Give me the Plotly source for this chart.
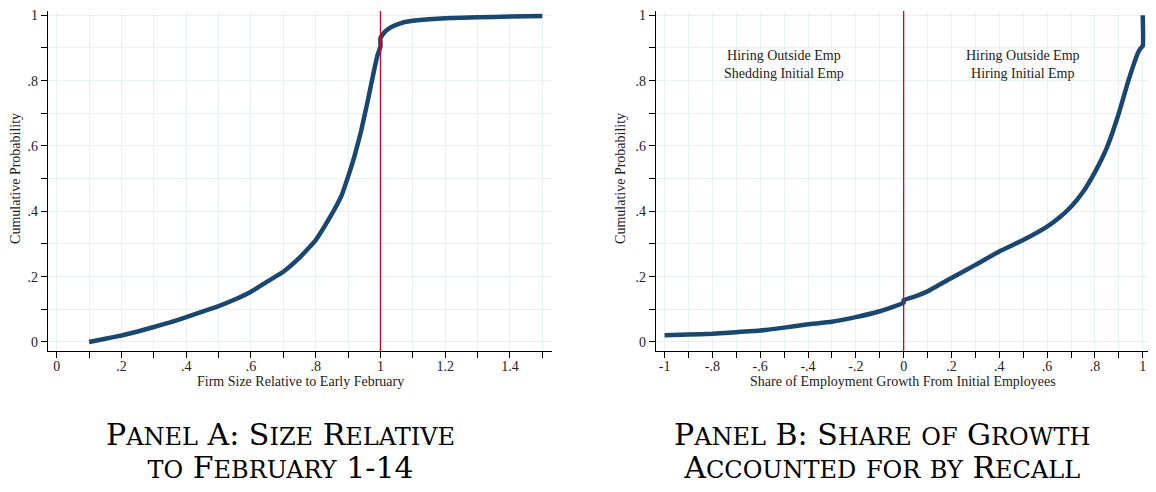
import plotly.graph_objects as go

# Panel A: firm size relative to early February (CDF)
size_x = [0.10, 0.15, 0.20, 0.25, 0.30, 0.35, 0.40, 0.45, 0.50, 0.55, 0.60, 0.65, 0.70, 0.75, 0.80,
          0.84, 0.88, 0.90, 0.92, 0.94, 0.96, 0.98, 0.99, 1.00,
          1.00, 1.01, 1.02, 1.04, 1.07, 1.10, 1.15, 1.20, 1.30, 1.40, 1.50]
size_cdf = [0.0, 0.01, 0.02, 0.032, 0.046, 0.06, 0.076, 0.093, 0.11, 0.13, 0.154, 0.185, 0.215, 0.258, 0.312,
            0.375, 0.449, 0.506, 0.57, 0.645, 0.735, 0.83, 0.875, 0.905,
            0.93, 0.945, 0.955, 0.967, 0.978, 0.983, 0.988, 0.991, 0.994, 0.996, 0.998]

# Panel B: share of employment growth from initial employees (CDF)
share_x = [-1.0, -0.9, -0.8, -0.7, -0.6, -0.5, -0.4, -0.3, -0.2, -0.1, -0.05, 0.0,
           0.0, 0.05, 0.1, 0.2, 0.3, 0.4, 0.5, 0.6, 0.65, 0.7, 0.75, 0.8, 0.85, 0.9,
           0.94, 0.96, 0.98, 0.99, 1.0, 1.0]
share_cdf = [0.021, 0.023, 0.025, 0.03, 0.035, 0.044, 0.054, 0.062, 0.076, 0.094, 0.106, 0.12,
             0.128, 0.14, 0.155, 0.196, 0.236, 0.277, 0.312, 0.353, 0.38, 0.414, 0.459, 0.52, 0.595, 0.70,
             0.80, 0.845, 0.885, 0.898, 0.906, 1.0]

y_ticks = [0, 0.2, 0.4, 0.6, 0.8, 1]
y_labels = ["0", ".2", ".4", ".6", ".8", "1"]
a_ticks = [0, 0.2, 0.4, 0.6, 0.8, 1, 1.2, 1.4]
a_labels = ["0", ".2", ".4", ".6", ".8", "1", "1.2", "1.4"]
b_ticks = [-1, -0.8, -0.6, -0.4, -0.2, 0, 0.2, 0.4, 0.6, 0.8, 1]
b_labels = ["-1", "-.8", "-.6", "-.4", "-.2", "0", ".2", ".4", ".6", ".8", "1"]

navy = "#1a476f"
red = "#d4002a"
grid = "#e8f0f2"
serif = "Liberation Serif"

# the page body adds an 8px margin all round, so the figure is 16px smaller than the window
OFF = 8
W, H = 1156 - 2 * OFF, 492 - 2 * OFF


def px(x):
    return min(max((x - OFF) / W, 0), 1)


def py(y):
    return min(max(1 - (y - OFF) / H, 0), 1)


fig = go.Figure()
fig.add_trace(go.Scatter(x=size_x, y=size_cdf, mode="lines",
                         line=dict(color=navy, width=4.5, shape="spline", smoothing=0.4),
                         xaxis="x", yaxis="y", showlegend=False))
fig.add_trace(go.Scatter(x=share_x, y=share_cdf, mode="lines",
                         line=dict(color=navy, width=4.5, shape="spline", smoothing=0.4),
                         xaxis="x2", yaxis="y2", showlegend=False))


def axis_style(vals, labels, rng, dom, anchor, standoff):
    return dict(domain=dom, range=rng, anchor=anchor, tickvals=vals, ticktext=labels,
                ticks="outside", ticklen=6, tickcolor="black", showline=True, linecolor="black",
                linewidth=1, showgrid=True, gridcolor=grid, gridwidth=1, zeroline=False,
                ticklabeloverflow="allow", ticklabelstandoff=standoff,
                tickfont=dict(family=serif, size=14, color="#222"),
                minor=dict(dtick=0.1, tick0=0, ticks="outside", ticklen=6, tickcolor="black",
                           showgrid=True, gridcolor=grid))


# plot top sits at the top of the figure; y=1 stays at reference pixel 12.3
ydom = [py(350.3), 1]
yr = [-0.028, 1 + (12.3 - OFF) / 328.7]
fig.update_layout(
    width=W, height=H, margin=dict(l=0, r=0, t=0, b=0),
    plot_bgcolor="white", paper_bgcolor="white",
    xaxis=axis_style(a_ticks, a_labels, [-0.028, 1.529], [px(47.7), px(551.7)], "y", -4),
    yaxis=axis_style(y_ticks, y_labels, yr, ydom, "x", 0),
    xaxis2=axis_style(b_ticks, b_labels, [-1.037, 1.022], [px(655.7), 1], "y2", -4),
    yaxis2=axis_style(y_ticks, y_labels, yr, ydom, "x2", 0),
)

# reference lines
fig.add_shape(type="line", x0=1, x1=1, y0=0, y1=1, xref="x", yref="y domain", line=dict(color=red, width=1.3))
fig.add_shape(type="line", x0=0, x1=0, y0=0, y1=1, xref="x2", yref="y2 domain", line=dict(color=red, width=1.3))

# axis titles
ttl = dict(family=serif, size=14, color="#222")
for txt, x, y, ang in [("Firm Size Relative to Early February", 300, 381, 0),
                       ("Share of Employment Growth From Initial Employees", 903, 381, 0),
                       ("Cumulative Probability", 16, 177, -90),
                       ("Cumulative Probability", 621, 177, -90)]:
    fig.add_annotation(text=txt, x=px(x), y=py(y), xref="paper", yref="paper", textangle=ang,
                       xanchor="center", yanchor="middle", showarrow=False, font=ttl)

# region labels in panel B
for txt, x in [("Hiring Outside Emp<br>Shedding Initial Emp", -0.5),
               ("Hiring Outside Emp<br>Hiring Initial Emp", 0.5)]:
    fig.add_annotation(text=txt, x=x, y=0.85, xref="x2", yref="y2", xanchor="center", yanchor="middle",
                       showarrow=False, font=dict(family=serif, size=14, color="#222"))


# panel captions in small caps: first letter full size, the rest as smaller capitals;
# the annotation's own font size sets the line spacing
def big(s):
    return "<span style='font-size:30px'>" + s + "</span>"


def small(s):
    return "<span style='font-size:24px'>" + s.upper() + "</span>"


def sc(word):
    return big(word[0]) + small(word[1:])


sp = big(" ")
cap_a = sp.join([sc("Panel"), big("A:"), sc("Size"), sc("Relative")]) + "<br>" + \
        sp.join([small("to"), sc("February"), big("1-14")])
cap_b = sp.join([sc("Panel"), big("B:"), sc("Share"), small("of"), sc("Growth")]) + "<br>" + \
        sp.join([sc("Accounted"), small("for"), small("by"), sc("Recall")])
cap_font = dict(family="DejaVu Serif", size=25, color="black")
for txt, x in [(cap_a, 280), (cap_b, 882)]:
    fig.add_annotation(text=txt, x=px(x), y=py(451), xref="paper", yref="paper",
                       xanchor="center", yanchor="middle", showarrow=False, font=cap_font)

fig.write_html("out.html")
